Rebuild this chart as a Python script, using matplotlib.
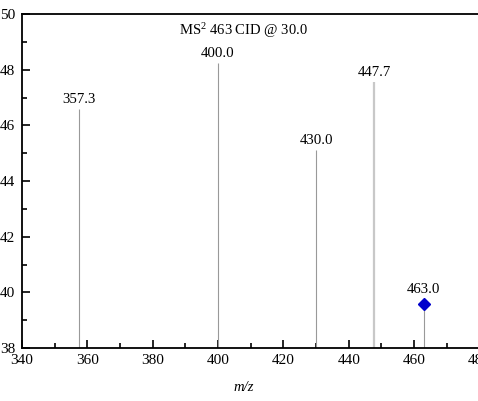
import matplotlib.pyplot as plt
from matplotlib.ticker import MultipleLocator

plt.rcParams['font.family'] = ['Liberation Serif', 'DejaVu Serif']
plt.rcParams['mathtext.fontset'] = 'custom'
plt.rcParams['mathtext.rm'] = 'Liberation Serif'
plt.rcParams['mathtext.it'] = 'Liberation Serif:italic'

mz = [357.3, 400.0, 430.0, 447.7]
intensity = [46.59, 48.24, 45.11, 47.56]
labels = ['357.3', '400.0', '430.0', '447.7']
line_colors = ['#999999', '#999999', '#999999', '#c8c8c8']
line_widths = [0.8, 0.8, 0.8, 1.6]

precursor_mz = 463.0
precursor_int = 39.58

fig = plt.figure(figsize=(4.78, 4.01), dpi=100)
ax = fig.add_axes([0.046, 0.132, 0.957, 0.833])

for x, y, c, w in zip(mz, intensity, line_colors, line_widths):
    ax.vlines(x, 38, y, color=c, lw=w)
for x, y, t in zip(mz, intensity, labels):
    ax.annotate(t, (x, y), xytext=(0, 4.3), textcoords='offset points',
                ha='center', va='baseline', fontsize=10.7)

ax.vlines(precursor_mz, 38, precursor_int, color='#999999', lw=0.8)
ax.plot(precursor_mz, precursor_int, marker='D', color='#0000cc', ms=6.3, ls='none')
ax.annotate('463.0', (precursor_mz, precursor_int), xytext=(0, 8),
            textcoords='offset points', ha='center', va='baseline', fontsize=10.7)

ax.set_xlim(340, 480)
ax.set_ylim(38, 50)
ax.xaxis.set_major_locator(MultipleLocator(20))
ax.xaxis.set_minor_locator(MultipleLocator(10))
ax.yaxis.set_major_locator(MultipleLocator(2))
ax.yaxis.set_minor_locator(MultipleLocator(1))
ax.tick_params(which='both', direction='in', labelsize=11, width=1.2)
ax.tick_params(which='major', length=6)
ax.tick_params(which='minor', length=3.5)
ax.tick_params(axis='x', pad=4.5)
ax.tick_params(axis='y', pad=5)
for s in ax.spines.values():
    s.set_linewidth(1.3)
ax.spines['right'].set_visible(False)

ax.text(0.485, 0.9375, r'MS$^{2}$ 463 CID @ 30.0', transform=ax.transAxes,
        ha='center', va='baseline', fontsize=10.5)
ax.set_xlabel('m/z', style='italic', fontsize=10.5)
ax.xaxis.set_label_coords(0.485, -0.117)
ax.xaxis.label.set_va('center')

fig.savefig('out.png', dpi=100)
